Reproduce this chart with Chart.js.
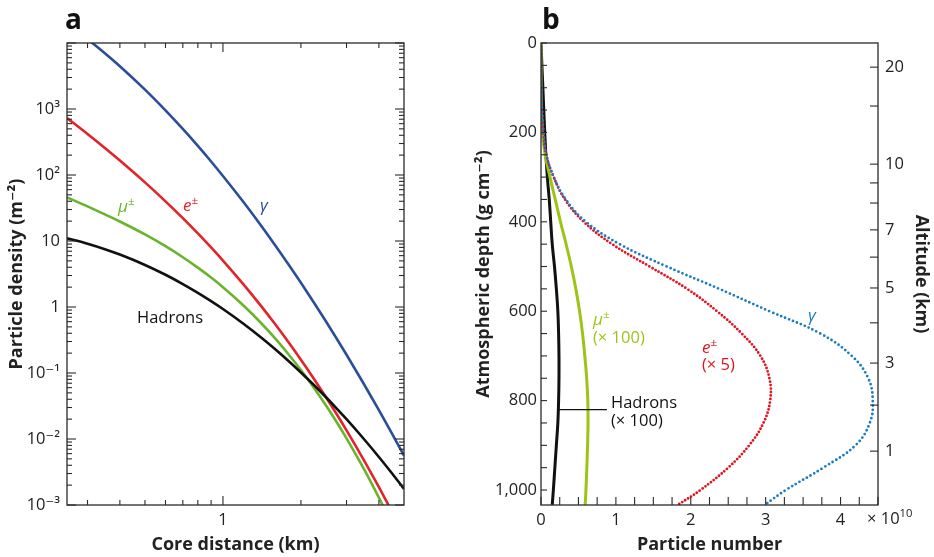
<!DOCTYPE html>
<html>
<head>
<meta charset="utf-8">
<script src="https://cdn.jsdelivr.net/npm/chart.js@4.4.0/dist/chart.umd.min.js"></script>
<style>
html,body{margin:0;padding:0;background:#fff;}
#wrap{position:relative;width:934px;height:557px;overflow:hidden;}
#ca{position:absolute;left:0;top:0;}
#cb{position:absolute;left:470px;top:0;}
</style>
</head>
<body>
<div id="wrap">
  <canvas id="ca" width="470" height="557"></canvas>
  <canvas id="cb" width="464" height="557"></canvas>
</div>
<script>
// ---- panel a: particle density vs core distance ----
const coreDist   = [0.25, 0.3, 0.35, 0.4, 0.5, 0.6, 0.7, 0.8, 0.9, 1, 1.2, 1.4, 1.6, 1.8, 2, 2.25, 2.5, 2.75, 3, 3.5, 4, 4.5, 5];
const densGamma  = [19530, 11440, 7000, 4449, 1965, 953.5, 498, 275.6, 160.2, 96.7, 38.9, 17.32, 8.36, 4.293, 2.327, 1.150, 0.6022, 0.3304, 0.1887, 0.0681, 0.02735, 0.01199, 0.005619];
const densElec   = [730, 417.7, 256.6, 165.8, 77.3, 39.9, 22.19, 13.02, 7.98, 5.058, 2.208, 1.050, 0.533, 0.2848, 0.1591, 0.0806, 0.04287, 0.02368, 0.01353, 0.0048, 0.001866, 0.000781, null];
const densMuon   = [45.9, 33.45, 25.36, 19.74, 12.56, 8.33, 5.677, 3.948, 2.79, 1.995, 1.054, 0.5771, 0.3251, 0.1876, 0.1108, 0.05886, 0.03212, 0.01794, 0.01023, 0.003518, 0.001291, 0.0005, null];
const densHadron = [10.97, 9.09, 7.52, 6.23, 4.338, 3.078, 2.227, 1.64, 1.227, 0.931, 0.5567, 0.3473, 0.2245, 0.1493, 0.1019, 0.06513, 0.04288, 0.02892, 0.01995, 0.01, 0.00534, 0.002995, 0.001748];

const xTicksA  = [0.3, 0.4, 0.5, 0.6, 0.7, 0.8, 0.9, 1, 2, 3, 4];
const xLabelsA = [1];
const yLabelVals = [1e-3, 1e-2, 1e-1, 1, 10, 100, 1000];
const yLabelText = ['10\u207B\u00B3', '10\u207B\u00B2', '10\u207B\u00B9', '1', '10', '10\u00B2', '10\u00B3'];

// ---- panel b: particle number vs atmospheric depth ----
const depth     = [0, 50, 100, 150, 200, 250, 300, 350, 400, 450, 500, 550, 600, 650, 700, 750, 800, 850, 900, 950, 1000, 1033];
const numGamma  = [0, 0, 0.005, 0.015, 0.035, 0.07, 0.17, 0.33, 0.6, 1.05, 1.68, 2.38, 3.05, 3.73, 4.15, 4.37, 4.43, 4.39, 4.2, 3.77, 3.27, 2.99];
const numElec   = [0, 0, 0, 0.01, 0.03, 0.07, 0.17, 0.32, 0.57, 0.95, 1.45, 1.95, 2.35, 2.68, 2.93, 3.05, 3.06, 2.97, 2.78, 2.5, 2.13, 1.83];
const numMuon   = [0, 0, 0, 0.005, 0.02, 0.055, 0.12, 0.19, 0.26, 0.335, 0.405, 0.465, 0.515, 0.555, 0.585, 0.61, 0.625, 0.628, 0.622, 0.612, 0.6, 0.59];
const numHadron = [0, 0.012, 0.025, 0.037, 0.05, 0.065, 0.085, 0.11, 0.13, 0.15, 0.18, 0.205, 0.225, 0.235, 0.24, 0.24, 0.235, 0.225, 0.205, 0.185, 0.165, 0.15];

const altKm      = [20, 15, 10, 9, 8, 7, 6, 5, 4, 3, 2, 1];
const altDepth   = [54, 141, 271, 313, 358, 418, 479, 548, 626, 716, 810, 913];
const altLabeled = [20, 10, 7, 5, 3, 1];

const FONT = "'Open Sans', 'DejaVu Sans', sans-serif";
Chart.defaults.font.family = FONT;
Chart.defaults.color = '#222';

const isInt = v => Math.abs(v - Math.round(v)) < 1e-6;

// frame + inward tick marks, drawn from the chart's own scales
function frameTicks(cfg) {
  return {
    id: 'frameTicks',
    afterDatasetsDraw(chart) {
      const {ctx, chartArea: a} = chart;
      ctx.save();
      ctx.strokeStyle = '#2a2a2a';
      ctx.lineWidth = 1.3;
      ctx.strokeRect(a.left, a.top, a.right - a.left, a.bottom - a.top);
      ctx.lineWidth = 1.1;
      cfg.forEach(c => {
        const s = chart.scales[c.id];
        s.ticks.forEach(t => {
          const p = s.getPixelForValue(t.value), len = c.len(t);
          c.sides.forEach(side => {
            ctx.beginPath();
            if (side === 'bottom') { ctx.moveTo(p, a.bottom); ctx.lineTo(p, a.bottom - len); }
            if (side === 'top')    { ctx.moveTo(p, a.top);    ctx.lineTo(p, a.top + len); }
            if (side === 'left')   { ctx.moveTo(a.left, p);   ctx.lineTo(a.left + len, p); }
            if (side === 'right')  { ctx.moveTo(a.right, p);  ctx.lineTo(a.right - len, p); }
            ctx.stroke();
          });
        });
      });
      ctx.restore();
    }
  };
}

function rich(ctx, x, y, parts, color, size) {
  ctx.fillStyle = color;
  ctx.textBaseline = 'alphabetic';
  ctx.textAlign = 'left';
  parts.forEach(([t, st]) => {
    const sup = st === 'sup';
    const fs = sup ? size * 0.68 : size;
    const pre = st === 'italic' ? 'italic ' : st === 'bold' ? 'bold ' : '';
    ctx.font = pre + fs + 'px ' + FONT;
    ctx.fillText(t, x, sup ? y - size * 0.42 : y);
    x += ctx.measureText(t).width;
  });
}

function textLayer(items, extra) {
  return {
    id: 'textLayer',
    afterDraw(chart) {
      const ctx = chart.ctx;
      ctx.save();
      items.forEach(it => rich(ctx, it.x, it.y, it.parts, it.color, it.size));
      if (extra) extra(chart, ctx);
      ctx.restore();
    }
  };
}

const colA = {gamma: '#2b4e9b', elec: '#e2232a', muon: '#6ab42d', had: '#111'};
const colB = {gamma: '#1b7cc2', elec: '#e3131f', muon: '#9cc417', had: '#111'};

const lineA = (vals, color) => ({
  data: coreDist.map((x, i) => ({x, y: vals[i]})).filter(p => p.y != null),
  showLine: true, borderColor: color, borderWidth: 2.6, pointRadius: 0,
  cubicInterpolationMode: 'monotone', fill: false
});

const titleFont = {size: 18, weight: 'bold'};
const tickFont = {size: 16.5};

new Chart(document.getElementById('ca'), {
  type: 'scatter',
  data: {datasets: [
    lineA(densHadron, colA.had),
    lineA(densMuon, colA.muon),
    lineA(densElec, colA.elec),
    lineA(densGamma, colA.gamma)
  ]},
  options: {
    responsive: false, animation: false,
    layout: {padding: {left: 0, right: 66, top: 43, bottom: 0}},
    plugins: {legend: {display: false}, tooltip: {enabled: false}},
    scales: {
      x: {
        type: 'logarithmic', min: 0.25, max: 5,
        grid: {display: false, drawTicks: false}, border: {display: false},
        afterBuildTicks: s => { s.ticks = xTicksA.map(v => ({value: v})); },
        afterFit: s => { s.height = 52; },
        ticks: {autoSkip: false, maxRotation: 0, padding: 5, font: tickFont,
          callback: v => xLabelsA.some(u => Math.abs(u - v) < 1e-9) ? String(v) : ''},
        title: {display: true, text: 'Core distance (km)', font: titleFont, padding: {top: 0, bottom: 1}}
      },
      y: {
        type: 'logarithmic', min: 1e-3, max: 1e4,
        grid: {display: false, drawTicks: false}, border: {display: false},
        afterBuildTicks: s => {
          const t = [];
          for (let e = -3; e <= 3; e++) for (let m = 1; m <= 9; m++) t.push({value: m * Math.pow(10, e), major: m === 1});
          t.push({value: 1e4, major: true});
          s.ticks = t;
        },
        afterFit: s => { s.width = 67; },
        ticks: {autoSkip: false, padding: 7, font: tickFont,
          callback: v => { const i = yLabelVals.findIndex(u => Math.abs(u - v) / u < 1e-6); return i < 0 ? '' : yLabelText[i]; }},
        title: {display: true, text: 'Particle density (m\u207B\u00B2)', font: titleFont, padding: {top: 6, bottom: 0}}
      }
    }
  },
  plugins: [
    frameTicks([
      {id: 'x', sides: ['bottom', 'top'], len: t => Math.abs(t.value - 1) < 1e-9 ? 9 : 5},
      {id: 'y', sides: ['left', 'right'], len: t => t.major ? 9 : 5}
    ]),
    textLayer([
      {x: 65, y: 29, parts: [['a', 'bold']], color: '#111', size: 28},
      {x: 118, y: 212, parts: [['\u03BC', 'italic'], ['\u00B1', 'sup']], color: colA.muon, size: 17},
      {x: 183, y: 211, parts: [['e', 'italic'], ['\u00B1', 'sup']], color: colA.elec, size: 17},
      {x: 260, y: 211, parts: [['\u03B3', 'italic']], color: colA.gamma, size: 17},
      {x: 137, y: 323, parts: [['Hadrons', '']], color: '#111', size: 16.5}
    ])
  ]
});

const lineB = (vals, color, width, dash) => ({
  data: depth.map((d, i) => ({x: vals[i], y: d})),
  showLine: true, borderColor: color, borderWidth: width, pointRadius: 0,
  tension: 0.4, fill: false, borderDash: dash || [], borderCapStyle: dash ? 'round' : 'butt'
});

new Chart(document.getElementById('cb'), {
  type: 'scatter',
  data: {datasets: [
    lineB(numGamma, colB.gamma, 2.8, [0, 4.3]),
    lineB(numElec, colB.elec, 2.8, [0, 3.5]),
    lineB(numMuon, colB.muon, 3),
    lineB(numHadron, colB.had, 3)
  ]},
  options: {
    responsive: false, animation: false,
    layout: {padding: {left: 0, right: 0, top: 43, bottom: 0}},
    plugins: {legend: {display: false}, tooltip: {enabled: false}},
    scales: {
      x: {
        type: 'linear', min: 0, max: 4.5,
        grid: {display: false, drawTicks: false}, border: {display: false},
        afterFit: s => { s.height = 52; },
        ticks: {stepSize: 0.25, includeBounds: false, autoSkip: false, maxRotation: 0, padding: 5, font: tickFont,
          callback: v => isInt(v) ? String(Math.round(v)) : ''},
        title: {display: true, text: 'Particle number', font: titleFont, padding: {top: 0, bottom: 1}}
      },
      y: {
        type: 'linear', min: 0, max: 1033.5, reverse: true,
        grid: {display: false, drawTicks: false}, border: {display: false},
        afterFit: s => { s.width = 71; },
        ticks: {stepSize: 50, includeBounds: false, autoSkip: false, padding: 4, font: tickFont,
          callback: v => Math.round(v) % 200 === 0 ? Math.round(v).toLocaleString('en-US') : ''},
        title: {display: true, text: 'Atmospheric depth (g cm\u207B\u00B2)', font: titleFont, padding: {top: 3, bottom: 0}}
      },
      y2: {
        type: 'linear', axis: 'y', position: 'right', min: 0, max: 1033.5, reverse: true,
        grid: {display: false, drawTicks: false}, border: {display: false},
        afterBuildTicks: s => { s.ticks = altDepth.map(v => ({value: v})); },
        afterFit: s => { s.width = 56; },
        ticks: {autoSkip: false, padding: 7, font: tickFont,
          callback: (v, i) => altLabeled.includes(altKm[i]) ? String(altKm[i]) : ''},
        title: {display: true, text: 'Altitude (km)', font: titleFont, padding: {top: 2, bottom: 0}}
      }
    }
  },
  plugins: [
    frameTicks([
      {id: 'x', sides: ['bottom'], len: () => 8},
      {id: 'y', sides: ['left'], len: () => 6},
      {id: 'y2', sides: ['right'], len: () => 8}
    ]),
    textLayer([
      {x: 72, y: 29, parts: [['b', 'bold']], color: '#111', size: 28},
      {x: 123, y: 325, parts: [['\u03BC', 'italic'], ['\u00B1', 'sup']], color: colB.muon, size: 17},
      {x: 123, y: 343, parts: [['(\u00D7 100)', '']], color: colB.muon, size: 16.5},
      {x: 232, y: 353, parts: [['e', 'italic'], ['\u00B1', 'sup']], color: colB.elec, size: 17},
      {x: 232, y: 370, parts: [['(\u00D7 5)', '']], color: colB.elec, size: 16.5},
      {x: 338, y: 321, parts: [['\u03B3', 'italic']], color: colB.gamma, size: 17},
      {x: 141, y: 408, parts: [['Hadrons', '']], color: '#111', size: 16.5},
      {x: 141, y: 426, parts: [['(\u00D7 100)', '']], color: '#111', size: 16.5},
      {x: 397, y: 524, parts: [['\u00D7 10', ''], ['10', 'sup']], color: '#222', size: 16.5}
    ], (chart, ctx) => {
      const xs = chart.scales.x, ys = chart.scales.y;
      ctx.strokeStyle = '#111';
      ctx.lineWidth = 1.2;
      ctx.beginPath();
      ctx.moveTo(xs.getPixelForValue(0.23), ys.getPixelForValue(820));
      ctx.lineTo(xs.getPixelForValue(0.88), ys.getPixelForValue(820));
      ctx.stroke();
    })
  ]
});
</script>
</body>
</html>
